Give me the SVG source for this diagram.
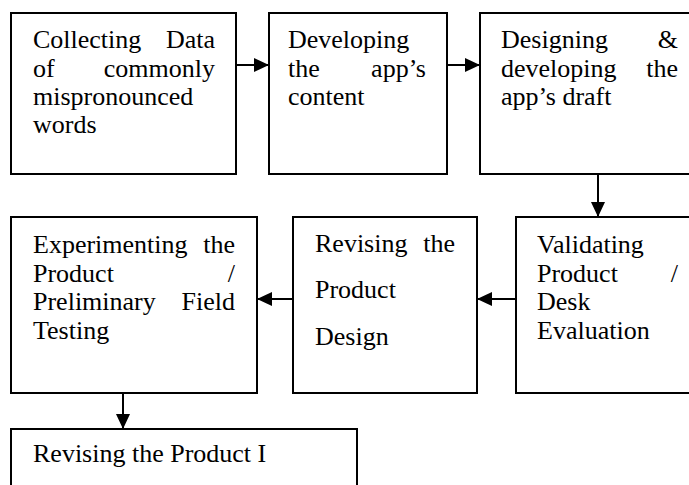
<svg xmlns="http://www.w3.org/2000/svg" width="689" height="485" viewBox="0 0 689 485">
  <style>
    .box { fill: #ffffff; stroke: #000000; stroke-width: 2; }
    .t { font-family: "Liberation Serif", "Times New Roman", serif; font-size: 26px; fill: #000000; }
    .e { text-anchor: end; }
    .link { stroke: #000000; stroke-width: 2; fill: none; marker-end: url(#head); }
  </style>
  <defs>
    <marker id="head" markerUnits="userSpaceOnUse" markerWidth="15" markerHeight="14" refX="15" refY="7" orient="auto">
      <path d="M0,0 L15,7 L0,14 z" fill="#000000"/>
    </marker>
  </defs>
  <rect width="689" height="485" fill="#ffffff"/>

  <g id="connectors">
    <line class="link" x1="236" y1="65" x2="269" y2="65"/>
    <line class="link" x1="447" y1="65" x2="480" y2="65"/>
    <line class="link" x1="598" y1="174" x2="598" y2="217"/>
    <line class="link" x1="516" y1="299" x2="477" y2="299"/>
    <line class="link" x1="293" y1="299" x2="257" y2="299"/>
    <line class="link" x1="123" y1="393" x2="123" y2="429"/>
  </g>

  <g id="collecting-data">
    <rect class="box" x="11" y="13" width="225" height="161"/>
    <text class="t" x="33" y="48">Collecting</text>
    <text class="t e" x="215" y="48">Data</text>
    <text class="t" x="33" y="76.5">of</text>
    <text class="t e" x="215" y="76.5">commonly</text>
    <text class="t" x="33" y="105">mispronounced</text>
    <text class="t" x="33" y="133">words</text>
  </g>

  <g id="developing-content">
    <rect class="box" x="269" y="13" width="178" height="161"/>
    <text class="t" x="288" y="48">Developing</text>
    <text class="t" x="288" y="76.5">the</text>
    <text class="t e" x="426" y="76.5">app’s</text>
    <text class="t" x="288" y="105">content</text>
  </g>

  <g id="designing-draft">
    <rect class="box" x="480" y="13" width="220" height="161"/>
    <text class="t" x="501" y="48">Designing</text>
    <text class="t e" x="678" y="48">&amp;</text>
    <text class="t" x="501" y="76.5">developing</text>
    <text class="t e" x="678" y="76.5">the</text>
    <text class="t" x="501" y="105">app’s draft</text>
  </g>

  <g id="validating-product">
    <rect class="box" x="516" y="217" width="184" height="176"/>
    <text class="t" x="537" y="253">Validating</text>
    <text class="t" x="537" y="281.5">Product</text>
    <text class="t e" x="678" y="281.5">/</text>
    <text class="t" x="537" y="310">Desk</text>
    <text class="t" x="537" y="338.5">Evaluation</text>
  </g>

  <g id="revising-design">
    <rect class="box" x="293" y="217" width="184" height="176"/>
    <text class="t" x="315" y="252">Revising</text>
    <text class="t e" x="455" y="252">the</text>
    <text class="t" x="315" y="298">Product</text>
    <text class="t" x="315" y="345">Design</text>
  </g>

  <g id="experimenting-product">
    <rect class="box" x="11" y="217" width="246" height="176"/>
    <text class="t" x="33" y="253">Experimenting</text>
    <text class="t e" x="235" y="253">the</text>
    <text class="t" x="33" y="281.5">Product</text>
    <text class="t e" x="235" y="281.5">/</text>
    <text class="t" x="33" y="310">Preliminary</text>
    <text class="t e" x="235" y="310">Field</text>
    <text class="t" x="33" y="338.5">Testing</text>
  </g>

  <g id="revising-product">
    <rect class="box" x="11" y="429" width="346" height="80"/>
    <text class="t" x="33" y="462">Revising the Product I</text>
  </g>
</svg>
